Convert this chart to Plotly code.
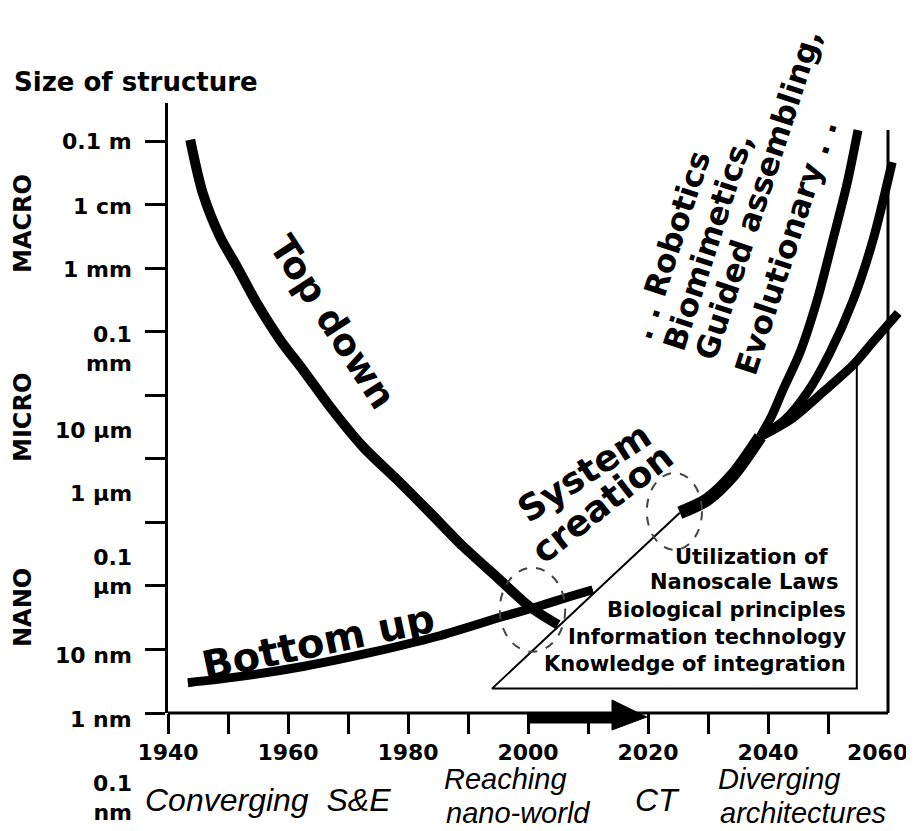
import plotly.graph_objects as go

# ---------------- data (years, size of structure in metres) ----------------
years_top_down = [1943.7, 1945.8, 1948.7, 1951.5, 1954.8, 1958.7, 1962.5, 1967.0,
                  1972.5, 1978.2, 1983.7, 1989.2, 1994.8, 2000.3, 2005.0]
size_top_down = [1.05e-1, 1.51e-2, 3.09e-3, 1.05e-3, 2.82e-4, 7.41e-5, 2.51e-5, 6.61e-6,
                 1.55e-6, 4.68e-7, 1.41e-7, 4.17e-8, 1.38e-8, 4.68e-9, 2.45e-9]

years_bottom_up = [1943.3, 1951.5, 1962.5, 1973.7, 1984.8, 1995.8, 2001.5, 2007.0, 2010.8]
size_bottom_up = [3.0e-10, 3.7e-10, 5.4e-10, 8.9e-10, 1.6e-9, 3.3e-9, 4.7e-9, 6.8e-9, 8.7e-9]

years_trunk = [2025.3, 2029.8, 2034.2, 2038.7]
size_trunk = [1.42e-7, 2.26e-7, 5.6e-7, 2.22e-6]

years_upper = [2038.7, 2040.7, 2042.5, 2045.3, 2048.2, 2050.8, 2053.2, 2055.0]
size_upper = [2.22e-6, 4.92e-6, 1.22e-5, 4.64e-5, 3.16e-4, 2.77e-3, 2.19e-2, 1.49e-1]

years_middle = [2038.7, 2042.8, 2046.5, 2050.3, 2054.2, 2057.5, 2060.7]
size_middle = [2.22e-6, 4.10e-6, 1.09e-5, 4.64e-5, 3.16e-4, 2.77e-3, 4.67e-2]

years_lower = [2038.7, 2043.7, 2049.2, 2054.2, 2057.5, 2061.7]
size_lower = [2.22e-6, 4.10e-6, 1.13e-5, 3.0e-5, 6.92e-5, 1.98e-4]

# outline of the "system creation" area
years_outline = [2025.3, 1994.0, 2054.8, 2054.8]
size_outline = [1.42e-7, 2.42e-10, 2.42e-10, 3.0e-5]

# dashed transition circles: (year0, year1, size0, size1)
circle_years = [(1995.3, 2006.2), (2019.8, 2029.0)]
circle_sizes = [(9.2e-10, 1.93e-8), (3.7e-8, 6.0e-7)]

x_tick_vals = [1940, 1950, 1960, 1970, 1980, 1990, 2000, 2010, 2020, 2030, 2040, 2050]
x_tick_text = ["1940", "", "1960", "", "1980", "", "2000", "", "2020", "", "2040", ""]
y_tick_vals = [1e-1, 1e-2, 1e-3, 1e-4, 1e-5, 1e-6, 1e-7, 1e-8, 1e-9, 1e-10]
y_tick_labels = ["0.1 m", "1 cm", "1 mm", "0.1<br>mm", "10 µm", "1 µm",
                 "0.1<br>µm", "10 nm", "1 nm", "0.1<br>nm"]
# approximate pixel rows of the size labels (they drift from the ticks in the original)
y_label_rows = [141, 206, 269, 349, 430, 493, 572, 655, 719, 798]

# ---------------- geometry (screen pixels; page body has an 8px margin) ----------------
OFF = 8
W, H = 914 - OFF, 831 - OFF
PLOT_L, PLOT_R, PLOT_T, PLOT_B = 168, 912, 103, 713
L, T = PLOT_L - OFF, PLOT_T - OFF
R, B = W - (PLOT_R - OFF), H - (PLOT_B - OFF)
PW, PH = PLOT_R - PLOT_L, PLOT_B - PLOT_T


def px(x):
    return (x - PLOT_L) / PW


def py(y):
    return (PLOT_B - y) / PH


BOLD = "DejaVu Sans"
fig = go.Figure()


def line(xs, ys, width, shape="spline"):
    fig.add_trace(go.Scatter(x=xs, y=ys, mode="lines",
                             line=dict(color="black", width=width, shape=shape, smoothing=0.8),
                             hoverinfo="skip", showlegend=False))


line(years_top_down, size_top_down, 10)
line(years_bottom_up, size_bottom_up, 9)
line(years_outline, size_outline, 2, shape="linear")
line(years_trunk, size_trunk, 13)
line(years_upper, size_upper, 9)
line(years_middle, size_middle, 9)
line(years_lower, size_lower, 9)

shapes = []
for (x0, x1), (y0, y1) in zip(circle_years, circle_sizes):
    shapes.append(dict(type="circle", xref="x", yref="y", x0=x0, x1=x1, y0=y0, y1=y1,
                       line=dict(color="#444", width=2, dash="dash")))
# bottom and right axis lines
shapes.append(dict(type="line", xref="x", yref="paper", x0=1940, x1=2060, y0=0, y1=0,
                   line=dict(color="black", width=3)))
shapes.append(dict(type="line", xref="x", yref="paper", x0=2060, x1=2060, y0=0, y1=py(130),
                   line=dict(color="black", width=3)))
# arrow on the time axis
ax0, ax1, ax2 = 2000.3, 2014.0, 2019.8
path = (f"M {ax0},{py(713)} L {ax1},{py(713)} L {ax1},{py(700)} L {ax2},{py(717)} "
        f"L {ax1},{py(730)} L {ax1},{py(723)} L {ax0},{py(723)} Z")
shapes.append(dict(type="path", xref="x", yref="paper", path=path,
                   fillcolor="black", line=dict(color="black", width=1)))

annotations = []


def ann(text, x, y, size, angle=0, xanchor="center", family=BOLD, weight="bold",
        style="normal", align="center"):
    annotations.append(dict(text=text, x=px(x), y=py(y), xref="paper", yref="paper",
                            xanchor=xanchor, yanchor="middle", showarrow=False,
                            textangle=angle, align=align,
                            font=dict(family=family, size=size, color="black",
                                      weight=weight, style=style)))


ann("Size of structure", 12, 82, 26, xanchor="left")
ann("MACRO", 23, 224, 24, angle=-90)
ann("MICRO", 23, 418, 24, angle=-90)
ann("NANO", 23, 608, 24, angle=-90)
for t, r in zip(y_tick_labels, y_label_rows):
    ann(t, 134, r, 22, xanchor="right", align="right")
ann("2060", 877, 752, 22)

IT = "Liberation Sans"
ann("Converging  S&E", 268, 800, 32, family=IT, weight="normal", style="italic")
ann("Reaching", 505, 779, 29, family=IT, weight="normal", style="italic")
ann("nano-world", 518, 813, 29, family=IT, weight="normal", style="italic")
ann("CT", 657, 800, 32, family=IT, weight="normal", style="italic")
ann("Diverging", 779, 779, 29, family=IT, weight="normal", style="italic")
ann("architectures", 803, 813, 29, family=IT, weight="normal", style="italic")

ann("Top down", 333, 322, 37, angle=57)
ann("Bottom up", 318, 642, 40, angle=-12)
ann("System", 584, 472, 36, angle=-33)
ann("creation", 602, 503, 36, angle=-38)

ann(". . Robotics", 670, 245, 31, angle=-72)
ann("Biomimetics,", 708, 242, 31, angle=-72)
ann("Guided assembling,", 758, 195, 31, angle=-72)
ann("Evolutionary . .", 786, 247, 31, angle=-72)

ann("Utilization of", 830, 557, 21, xanchor="right")
ann("Nanoscale Laws", 840, 582, 21, xanchor="right")
ann("Biological principles", 848, 610, 21, xanchor="right")
ann("Information technology", 848, 637, 21, xanchor="right")
ann("Knowledge of integration", 848, 664, 21, xanchor="right")

fig.update_layout(
    width=W, height=H, autosize=False,
    margin=dict(l=L, r=R, t=T, b=B, pad=0),
    paper_bgcolor="white", plot_bgcolor="white",
    shapes=shapes, annotations=annotations,
    xaxis=dict(range=[1940, 2064], tickvals=x_tick_vals, ticktext=x_tick_text,
               ticks="outside", ticklen=20, tickwidth=3, tickcolor="black",
               showline=False, showgrid=False, zeroline=False,
               tickfont=dict(family=BOLD, size=22, color="black", weight="bold")),
    yaxis=dict(type="log", range=[-10, -0.4], tickvals=y_tick_vals,
               showticklabels=False, ticks="outside", ticklen=20, tickwidth=3,
               tickcolor="black", showline=True, linewidth=3, linecolor="black",
               showgrid=False, zeroline=False),
    yaxis2=dict(type="log", range=[-10, -0.4], overlaying="y", side="right",
                anchor="free", position=px(888), tickvals=y_tick_vals[:-1],
                showticklabels=False, ticks="inside", ticklen=20, tickwidth=3,
                tickcolor="black", showline=False, showgrid=False, zeroline=False),
)

fig.write_html("out.html")
